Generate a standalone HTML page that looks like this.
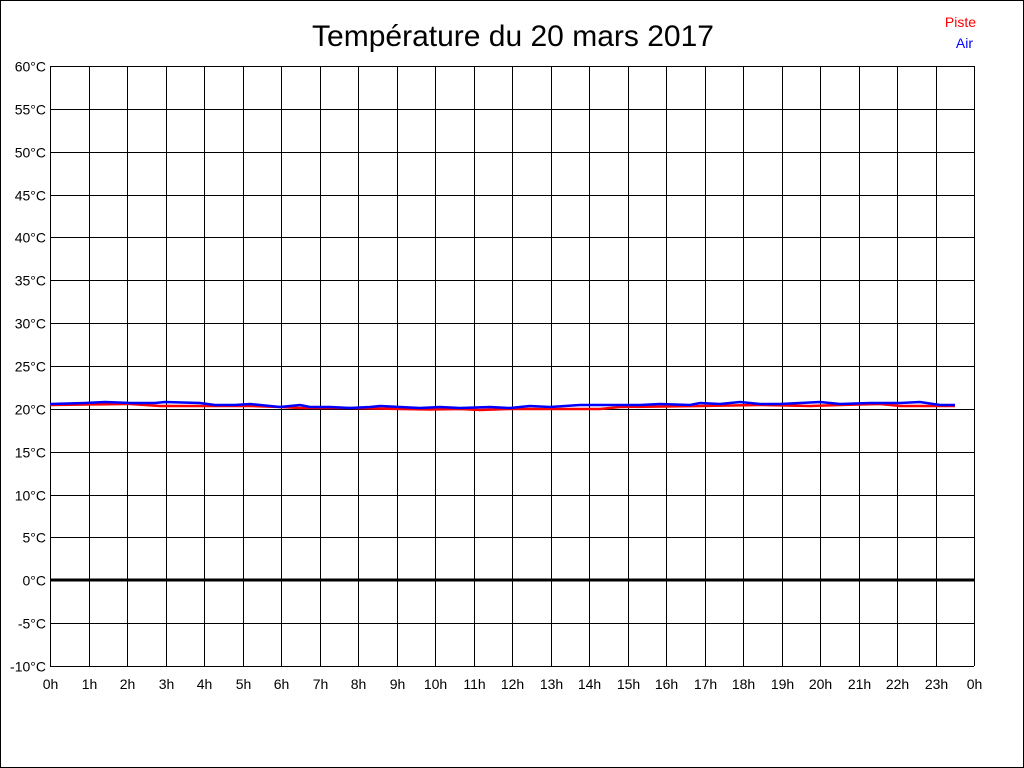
<!DOCTYPE html>
<html><head><meta charset="utf-8"><style>
html,body{margin:0;padding:0;background:#fff}
svg{display:block}
text{font-family:"Liberation Sans",sans-serif}
</style></head><body>
<svg width="1024" height="768" xmlns="http://www.w3.org/2000/svg">
<rect x="0.5" y="0.5" width="1023" height="767" fill="#fff" stroke="#000"/>
<text x="513" y="46" font-size="30" text-anchor="middle">Température du 20 mars 2017</text>
<text x="976" y="27" font-size="14" fill="#f00" text-anchor="end">Piste</text>
<text x="973" y="48" font-size="14" fill="#00f" text-anchor="end">Air</text>
<g id="grid" stroke="#000" stroke-width="1" shape-rendering="crispEdges"></g>
<g id="labels" font-size="14"></g>
<line x1="50" y1="580" x2="974" y2="580" stroke="#000" stroke-width="3"/>
<polyline fill="none" stroke="#f00" stroke-width="2.5" points="50,405 130,404 160,406 215,406 250,406 280,407 300,408 350,408 400,409 430,409.5 460,409 480,410 510,409 600,409 620,407 700,406 760,405 810,406 840,405 880,404 900,406 955,406"/>
<polyline fill="none" stroke="#00f" stroke-width="2.5" points="50,404 85,403 105,402 130,403 155,403 165,402 200,403 215,405 235,405 250,404 270,406 280,407 300,405 310,407 330,407 350,408 370,407 380,406 400,407 420,408 440,407 460,408 490,407 510,408 530,406 550,407 580,405 620,405 640,405 660,404 690,405 700,403 720,404 740,402 760,404 780,404 800,403 820,402 840,404 870,403 900,403 920,402 940,405 955,405"/>
</svg>
<script>
var g=document.getElementById('grid'),l=document.getElementById('labels'),ns="http://www.w3.org/2000/svg";
function el(p,t,a,txt){var e=document.createElementNS(ns,t);for(var k in a)e.setAttribute(k,a[k]);if(txt!=null)e.textContent=txt;p.appendChild(e);}
for(var i=0;i<=14;i++){var y=Math.round(66+i*600/14)+0.5;el(g,'line',{x1:50,x2:974,y1:y,y2:y});
el(l,'text',{x:46,y:y+5,'text-anchor':'end'},(60-5*i)+'°C');}
for(var j=0;j<=24;j++){var x=Math.round(50+j*38.5)+0.5;el(g,'line',{x1:x,x2:x,y1:66,y2:666});
el(l,'text',{x:x,y:689,'text-anchor':'middle'},(j%24)+'h');}
</script>
</body></html>
